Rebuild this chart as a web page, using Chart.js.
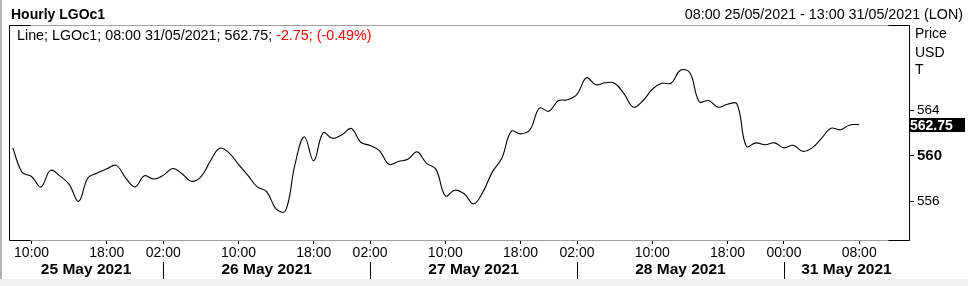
<!DOCTYPE html>
<html>
<head>
<meta charset="utf-8">
<script src="https://cdn.jsdelivr.net/npm/chart.js@4"></script>
<style>
  html, body { margin: 0; padding: 0; background: #fff; }
  #wrap { position: relative; width: 968px; height: 286px; overflow: hidden;
    font-family: "Liberation Sans", Arial, sans-serif; color: #000; }
  #wrap canvas { position: absolute; left: 0; top: 0; }
  .t { position: absolute; white-space: nowrap; font-size: 14.3px; line-height: 16px; }
  .red { color: #ff0000; }
  #edge { position: absolute; left: 0; top: 0; width: 2px; height: 286px; background: #b4b4b4; }
  #band { position: absolute; left: 0; top: 279px; width: 968px; height: 7px; background: #f0f0f0; }
</style>
</head>
<body>
<div id="wrap">
  <canvas id="chart" width="968" height="286"></canvas>
  <div id="edge"></div>
  <div id="band"></div>
  <div class="t" style="left:11px;top:6px;font-size:14px;font-weight:bold;">Hourly LGOc1</div>
  <div class="t" style="right:5px;top:6px;">08:00 25/05/2021 - 13:00 31/05/2021 (LON)</div>
  <div class="t" style="left:17px;top:27px;">Line; LGOc1; 08:00 31/05/2021; 562.75; <span class="red">-2.75; (-0.49%)</span></div>
  <div class="t" style="left:915px;top:25px;font-size:14px;">Price</div>
  <div class="t" style="left:915px;top:44px;font-size:14px;">USD</div>
  <div class="t" style="left:915px;top:61px;font-size:14px;">T</div>
</div>
<script>
(function () {
  "use strict";

  // hourly closes, one per trading-hour slot from 08:00 25/05 to 08:00 31/05
  var prices = [
    560.70, 558.55, 558.18, 557.27, 558.72, 558.24, 557.49, 556.00, 558.07, 558.48,
    558.86, 559.16, 558.07, 557.27, 558.24, 557.96, 558.28, 558.89, 558.42, 557.76,
    558.15, 559.52, 560.66, 560.26, 559.25, 558.28, 557.27, 556.86, 555.34, 555.16,
    559.21, 561.67, 559.56, 562.02, 561.54, 561.85, 562.40, 561.19, 560.91, 560.44,
    559.25, 559.50, 559.69, 560.35, 559.34, 558.81, 556.48, 556.98, 556.66, 555.78,
    556.83, 558.59, 559.78, 562.15, 561.93, 562.29, 564.20, 563.91, 564.84, 564.93,
    565.41, 566.86, 566.25, 566.42, 566.38, 565.45, 564.27, 564.84, 565.85, 566.38,
    566.38, 567.52, 567.30, 564.75, 564.86, 564.27, 564.53, 564.57, 560.84, 561.14,
    560.97, 561.14, 560.70, 560.92, 560.40, 560.70, 561.54, 562.42, 562.29, 562.71, 562.75
  ];
  var lastSlot = 95;            // 13:00 31/05 (end of the time window)
  var tickIdx = [2, 10, 16, 24, 32, 38, 46, 54, 60, 68, 76, 82, 90];
  var tickText = ["10:00", "18:00", "02:00", "10:00", "18:00", "02:00", "10:00",
                  "18:00", "02:00", "10:00", "18:00", "00:00", "08:00"];
  var daySplits = [16, 38, 60, 82];
  var dayLabels = ["25 May 2021", "26 May 2021", "27 May 2021", "28 May 2021", "31 May 2021"];
  var yTicks = [556, 560, 564];
  var yMin = 552.6, yMax = 571.5;

  var FONT = "'Liberation Sans', Arial, sans-serif";
  Chart.defaults.font.family = FONT;
  Chart.defaults.color = "#000";

  var framePlugin = {
    id: "frame",
    afterDraw: function (chart) {
      var ctx = chart.ctx, a = chart.chartArea, xs = chart.scales.x, ys = chart.scales.y;
      var L = a.left + 0.5, R = a.right + 0.5, T = a.top + 0.5, B = a.bottom + 0.5;
      ctx.save();
      ctx.lineWidth = 1;
      ctx.strokeStyle = "#a0a0a0";
      ctx.beginPath();
      ctx.moveTo(L, T); ctx.lineTo(R, T);
      ctx.moveTo(L, B); ctx.lineTo(R, B);
      ctx.stroke();
      ctx.strokeStyle = "#000";
      ctx.beginPath();
      ctx.moveTo(L, T); ctx.lineTo(L, B);
      ctx.moveTo(R, T); ctx.lineTo(R, B);
      ctx.moveTo(L, T); ctx.lineTo(L + 21, T);
      ctx.moveTo(R - 21, T); ctx.lineTo(R, T);
      ctx.moveTo(L, B); ctx.lineTo(L + 21, B);
      ctx.moveTo(R - 21, B); ctx.lineTo(R, B);
      ctx.stroke();

      // day separators + day labels
      var edges = [a.left].concat(daySplits.map(function (i) { return xs.getPixelForValue(i); })).concat([a.right]);
      ctx.beginPath();
      daySplits.forEach(function (i) {
        var x = Math.round(xs.getPixelForValue(i)) + 0.5;
        ctx.moveTo(x, a.bottom + 22); ctx.lineTo(x, a.bottom + 39);
      });
      ctx.stroke();
      ctx.font = "bold 15.5px " + FONT;
      ctx.fillStyle = "#000";
      ctx.textAlign = "center";
      ctx.textBaseline = "alphabetic";
      dayLabels.forEach(function (d, k) {
        ctx.fillText(d, (edges[k] + edges[k + 1]) / 2, a.bottom + 34);
      });

      // last price marker on the axis
      var last = prices[prices.length - 1];
      var y = Math.round(ys.getPixelForValue(last));
      ctx.fillStyle = "#000";
      ctx.fillRect(a.right, y - 7, 56, 14);
      ctx.fillStyle = "#fff";
      ctx.font = "bold 14px " + FONT;
      ctx.textAlign = "left";
      ctx.fillText(last.toFixed(2), a.right + 1, y + 5);
      ctx.restore();
    }
  };

  new Chart(document.getElementById("chart"), {
    type: "line",
    data: {
      datasets: [{
        label: "LGOc1",
        data: prices.map(function (v, i) { return { x: i, y: v }; }),
        borderColor: "#000", borderWidth: 1.1, pointRadius: 0, tension: 0.4, fill: false
      }]
    },
    options: {
      responsive: false, animation: false, devicePixelRatio: 1,
      layout: { padding: { left: 9, top: 25, right: 0, bottom: 0 } },
      plugins: { legend: { display: false }, tooltip: { enabled: false } },
      scales: {
        x: {
          type: "linear", min: -0.4, max: lastSlot + 0.3,
          afterBuildTicks: function (s) { s.ticks = tickIdx.map(function (v) { return { value: v }; }); },
          afterFit: function (s) { s.height = 46; },
          ticks: {
            autoSkip: false, maxRotation: 0, padding: 1, color: "#000", font: { size: 14 },
            callback: function (v) { var k = tickIdx.indexOf(v); return k < 0 ? "" : tickText[k]; }
          },
          grid: { drawOnChartArea: false, tickLength: 4, color: "#000" },
          border: { display: false }
        },
        y: {
          position: "right", min: yMin, max: yMax,
          afterBuildTicks: function (s) { s.ticks = yTicks.map(function (v) { return { value: v }; }); },
          afterFit: function (s) { s.width = 59; },
          ticks: {
            padding: 3, color: "#000",
            font: function (c) {
              return (c.tick && c.tick.value === 560) ? { size: 15, weight: "bold" } : { size: 13.5 };
            }
          },
          grid: { drawOnChartArea: false, tickLength: 5, color: "#000" },
          border: { display: false }
        }
      }
    },
    plugins: [framePlugin]
  });
})();
</script>
</body>
</html>
